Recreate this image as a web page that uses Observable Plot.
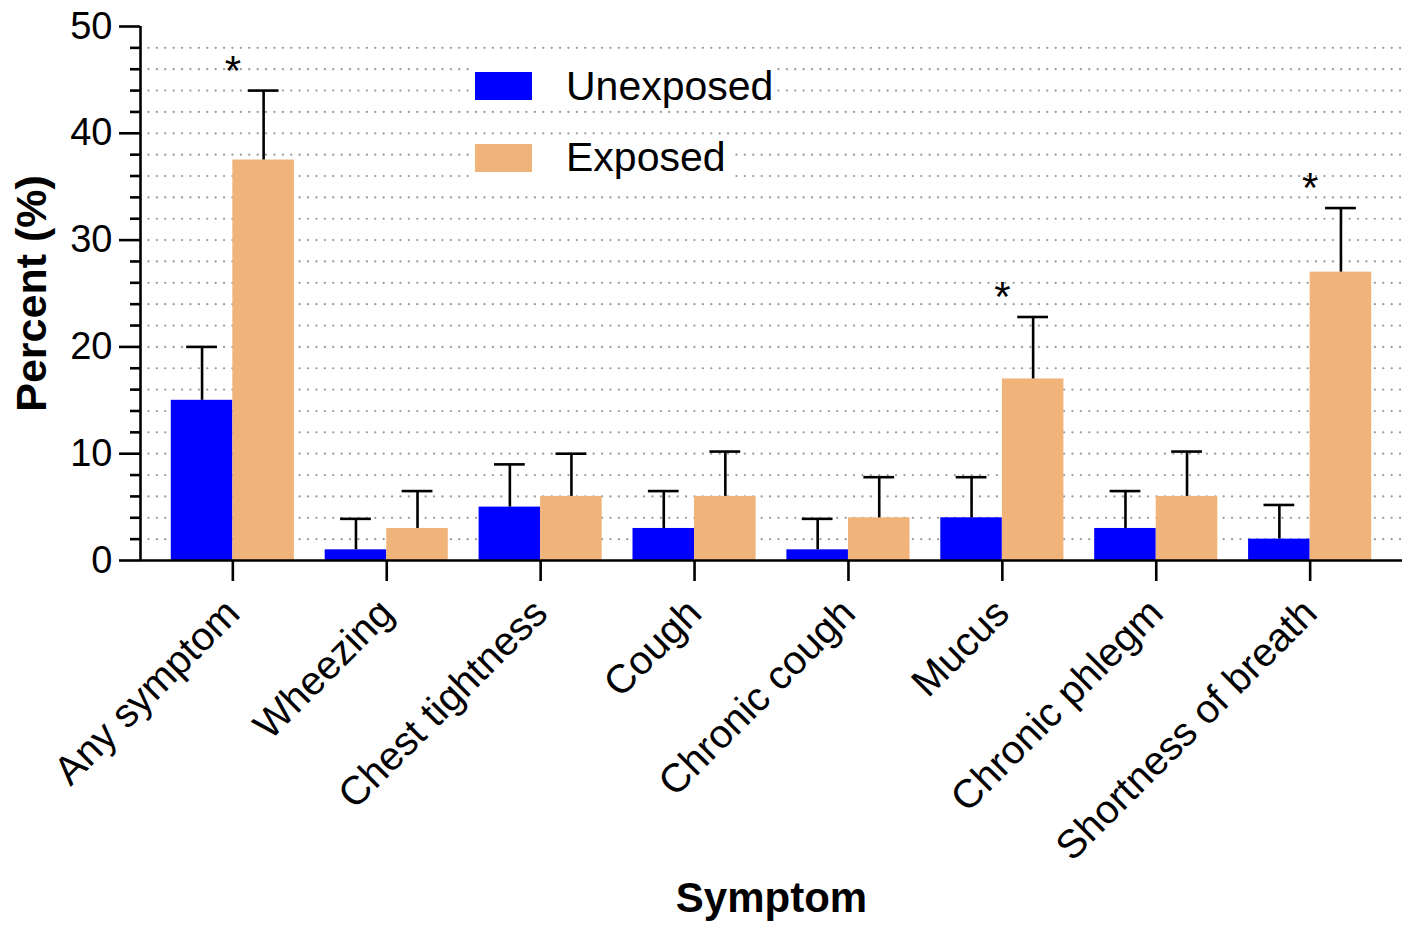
<!DOCTYPE html>
<html><head><meta charset="utf-8">
<script src="https://cdn.jsdelivr.net/npm/d3@7"></script>
<script src="https://cdn.jsdelivr.net/npm/@observablehq/plot@0.6"></script>
<style>
body{margin:0;background:#fff;font-family:"Liberation Sans",Arial,sans-serif;}
#wrap{position:relative;width:1419px;height:929px;}
.item{position:absolute;left:475px;display:flex;align-items:center;background:#fff;font-size:41px;color:#000;height:44px;padding-right:4px;}
.sw{width:57px;height:28px;margin-right:34px;}
</style></head>
<body><div id="wrap"></div>
<script>
const symptoms = ["Any symptom","Wheezing","Chest tightness","Cough","Chronic cough","Mucus","Chronic phlegm","Shortness of breath"];
const groups = ["Unexposed","Exposed"];
const colors = ["#0000ff","#f0b37a"];
const unexposed = [15, 1, 5, 3, 1, 4, 3, 2];
const unexposedUpper = [20, 3.9, 9, 6.5, 3.9, 7.8, 6.5, 5.2];
const exposed = [37.5, 3, 6, 6, 4, 17, 6, 27];
const exposedUpper = [44, 6.5, 10, 10.2, 7.8, 22.8, 10.2, 33];
const significant = [true, false, false, false, false, true, false, true];
const yMajorTicks = [0, 10, 20, 30, 40, 50];
const yLabel = "Percent (%)";
const xLabel = "Symptom";

const n = symptoms.length;
const rows = [];
symptoms.forEach((s, i) => {
  rows.push({i, symptom: s, group: groups[0], value: unexposed[i], upper: unexposedUpper[i], side: -1});
  rows.push({i, symptom: s, group: groups[1], value: exposed[i], upper: exposedUpper[i], side: 1});
});
const bw = 0.4;      // bar width in group units
const cap = 0.1;     // half cap width
const minorTicks = d3.range(2, 50, 2).filter(v => v % 10 !== 0);
const stars = rows.filter(d => d.side > 0 && significant[d.i]);

const chart = Plot.plot({
  width: 1419, height: 929,
  marginLeft: 140, marginRight: 17, marginTop: 26, marginBottom: 369,
  style: {fontFamily: "'Liberation Sans', Arial, sans-serif", background: "white", color: "black"},
  x: {type: "linear", domain: [-0.6, n - 0.4], axis: null},
  y: {domain: [0, 50], axis: null},
  color: {domain: groups, range: colors},
  marks: [
    Plot.ruleY(d3.range(2, 50, 2), {stroke: "#9a9a9a", strokeWidth: 2.2, strokeDasharray: "0.1,8.3", strokeLinecap: "round"}),
    Plot.rectY(rows, {x1: d => d.side < 0 ? d.i - bw : d.i, x2: d => d.side < 0 ? d.i : d.i + bw, y1: 0, y2: "value", fill: "group"}),
    Plot.ruleX(rows, {x: d => d.i + d.side * bw / 2, y1: "value", y2: "upper", stroke: "black", strokeWidth: 2.6}),
    Plot.ruleY(rows, {x1: d => d.i + d.side * bw / 2 - cap, x2: d => d.i + d.side * bw / 2 + cap, y: "upper", stroke: "black", strokeWidth: 2.6}),
    Plot.text(stars, {x: "i", y: d => d.upper + 1.8, text: () => "*", fontSize: 42, fill: "black"}),
    Plot.ruleY([0], {stroke: "black", strokeWidth: 2.6}),
    Plot.ruleX([-0.6], {y1: 0, y2: 50, stroke: "black", strokeWidth: 2.6}),
    Plot.axisY({ticks: yMajorTicks, tickSize: 21, tickPadding: 7, fontSize: 38, strokeWidth: 2.6, label: null}),
    Plot.axisY({ticks: minorTicks, tickSize: 10, tickFormat: () => "", strokeWidth: 2.6, label: null}),
    Plot.axisX({ticks: d3.range(n), tickFormat: i => symptoms[i], tickSize: 21, tickPadding: 25, tickRotate: -45, fontSize: 40, strokeWidth: 2.6, label: null}),
    Plot.text([yLabel], {frameAnchor: "left", textAnchor: "middle", lineAnchor: "middle", dx: -108, rotate: -90, fontSize: 43, fontWeight: "bold", fill: "black"}),
    Plot.text([xLabel], {frameAnchor: "bottom", textAnchor: "middle", lineAnchor: "middle", dy: 338, fontSize: 42, fontWeight: "bold", fill: "black"})
  ]
});
const wrap = document.getElementById("wrap");
wrap.appendChild(chart);
const tops = [64, 135.5];
groups.forEach((g, k) => {
  const it = document.createElement("div");
  it.className = "item";
  it.style.top = tops[k] + "px";
  const sw = document.createElement("div");
  sw.className = "sw";
  sw.style.background = colors[k];
  const t = document.createElement("span");
  t.textContent = g;
  it.appendChild(sw); it.appendChild(t);
  wrap.appendChild(it);
});
</script></body></html>
